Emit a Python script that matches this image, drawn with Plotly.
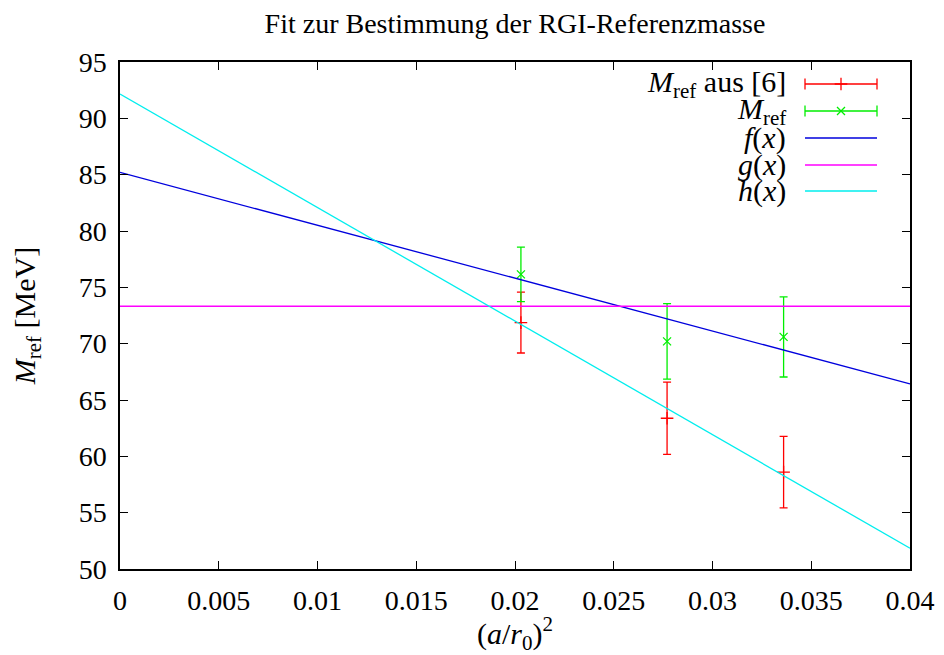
import plotly.graph_objects as go

# ---- data ----
x_points = [0.0203, 0.0277, 0.0336]
mref_lit = [71.87, 63.38, 58.6]          # M_ref aus [6]
mref_lit_err = [2.7, 3.2, 3.17]
mref = [76.15, 70.2, 70.6]               # M_ref
mref_err = [2.42, 3.35, 3.56]

x_line = [0.0, 0.04]
f_vals = [85.2, 66.43]
g_vals = [73.33, 73.33]
h_vals = [92.16, 51.84]

x_ticks = [0, 0.005, 0.01, 0.015, 0.02, 0.025, 0.03, 0.035, 0.04]
x_ticklabels = ["0", "0.005", "0.01", "0.015", "0.02", "0.025", "0.03", "0.035", "0.04"]
y_ticks = [50, 55, 60, 65, 70, 75, 80, 85, 90, 95]

legend_labels = ["<i>M</i><sub>ref</sub> aus [6]", "<i>M</i><sub>ref</sub>",
                 "<i>f</i>(<i>x</i>)", "<i>g</i>(<i>x</i>)", "<i>h</i>(<i>x</i>)"]

RED = "#ff0000"
GREEN = "#00ee00"
BLUE = "#0000dd"
MAGENTA = "#ff00ff"
CYAN = "#00eeee"
FONT = "Liberation Serif, DejaVu Serif, serif"

fig = go.Figure()

fig.add_trace(go.Scatter(
    x=x_points, y=mref_lit, mode="markers",
    marker=dict(symbol="cross-thin", size=9, line=dict(color=RED, width=1.3)),
    error_y=dict(type="data", array=mref_lit_err, color=RED, thickness=1.3, width=4),
    showlegend=False))
fig.add_trace(go.Scatter(
    x=x_points, y=mref, mode="markers",
    marker=dict(symbol="x-thin", size=8, line=dict(color=GREEN, width=1.3)),
    error_y=dict(type="data", array=mref_err, color=GREEN, thickness=1.3, width=4),
    showlegend=False))
fig.add_trace(go.Scatter(x=x_line, y=f_vals, mode="lines",
                         line=dict(color=BLUE, width=1.3), showlegend=False))
fig.add_trace(go.Scatter(x=x_line, y=g_vals, mode="lines",
                         line=dict(color=MAGENTA, width=1.5), showlegend=False))
fig.add_trace(go.Scatter(x=x_line, y=h_vals, mode="lines",
                         line=dict(color=CYAN, width=1.3), showlegend=False))

# ---- manual gnuplot-style key (samples on the right of the text) ----
L, R, T, B = 120, 910, 62, 569
def px(xp):
    return (xp - L) / (R - L)
def py(yp):
    return (B - yp) / (B - T)

rows = [84, 111, 138, 165, 191]
sx0, sx1 = px(805), px(877)
sxm = (sx0 + sx1) / 2
colors = [RED, GREEN, BLUE, MAGENTA, CYAN]
for i, (row, col) in enumerate(zip(rows, colors)):
    yy = py(row)
    if i < 2:
        fig.add_trace(go.Scatter(
            x=[sx0, sx1], y=[yy, yy], mode="lines+markers", xaxis="x2", yaxis="y2",
            line=dict(color=col, width=1.3),
            marker=dict(symbol="line-ns", size=8, line=dict(color=col, width=1.3)),
            showlegend=False, hoverinfo="skip"))
        fig.add_trace(go.Scatter(
            x=[sxm], y=[yy], mode="markers", xaxis="x2", yaxis="y2",
            marker=dict(symbol="cross-thin" if i == 0 else "x-thin", size=9 if i == 0 else 8,
                        line=dict(color=col, width=1.3)),
            showlegend=False, hoverinfo="skip"))
    else:
        fig.add_trace(go.Scatter(
            x=[sx0, sx1], y=[yy, yy], mode="lines", xaxis="x2", yaxis="y2",
            line=dict(color=col, width=1.5 if i == 3 else 1.3),
            showlegend=False, hoverinfo="skip"))
    fig.add_annotation(x=px(788), y=yy, xref="paper", yref="paper",
                       text=legend_labels[i], showarrow=False, xanchor="right",
                       yanchor="middle", font=dict(family=FONT, size=30, color="black"))

axis_common = dict(showgrid=False, zeroline=False, showline=True, linecolor="black",
                   linewidth=1.5, mirror="ticks", ticks="inside", ticklen=8,
                   tickwidth=1, tickcolor="black",
                   tickfont=dict(family=FONT, size=28, color="black"))

fig.update_layout(
    width=944, height=655,
    font=dict(family=FONT, size=28, color="black"),
    margin=dict(l=L, r=944 - R, t=T, b=655 - B, autoexpand=False),
    paper_bgcolor="white", plot_bgcolor="white",
    title=dict(text="Fit zur Bestimmung der RGI-Referenzmasse", x=0.5, xref="paper",
               y=1 - 23 / 655, yref="container", yanchor="middle", xanchor="center",
               font=dict(family=FONT, size=28, color="black")),
    xaxis=dict(range=[0, 0.04], tickvals=x_ticks, ticktext=x_ticklabels,
               ticklabelstandoff=6,
               title=dict(text="(<i>a</i>/<i>r</i><sub>0</sub>)<sup>2</sup>", standoff=4,
                          font=dict(family=FONT, size=30, color="black")),
               **axis_common),
    yaxis=dict(range=[50, 95], tickvals=y_ticks, ticklabelstandoff=6,
               title=dict(text="<i>M</i><sub>ref</sub> [MeV]", standoff=34,
                          font=dict(family=FONT, size=30, color="black")),
               **axis_common),
    xaxis2=dict(overlaying="x", range=[0, 1], visible=False, anchor="y2"),
    yaxis2=dict(overlaying="y", range=[0, 1], visible=False, anchor="x2"),
)

fig.write_html("out.html", config={"displayModeBar": False},
               post_script="document.body.style.margin='0px';document.body.style.overflow='hidden';")
